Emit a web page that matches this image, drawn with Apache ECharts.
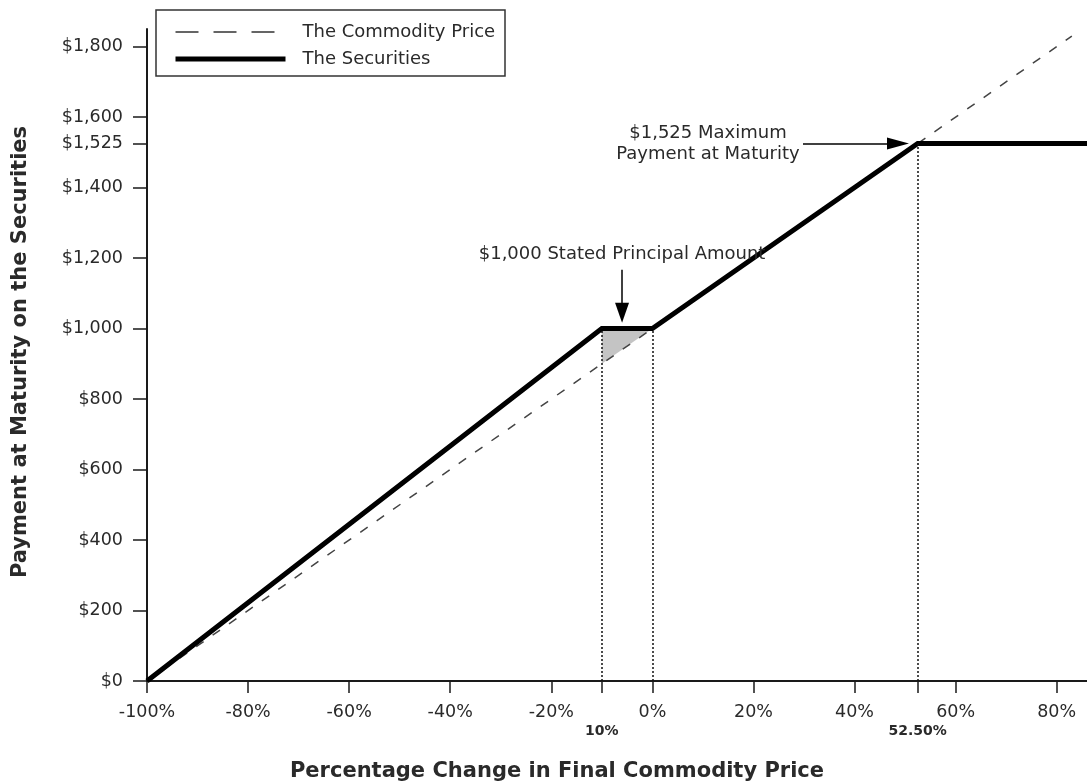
<!DOCTYPE html>
<html>
<head>
<meta charset="utf-8">
<script src="https://cdn.jsdelivr.net/npm/echarts@6/dist/echarts.min.js"></script>
<style>
  html, body { margin: 0; padding: 0; background: #fff; }
  #chart { width: 1087px; height: 783px; }
</style>
</head>
<body>
<div id="chart"></div>
<script>
// Axis ticks and labels
const xTicks = [-100, -80, -60, -40, -20, 0, 20, 40, 60, 80];
const xMarks = [-10, 52.5];
const xMarkLabels = ['10%', '52.50%'];
const yTicks = [0, 200, 400, 600, 800, 1000, 1200, 1400, 1525, 1600, 1800];

// Payoff lines: [percentage change, payment]
const commodityPrice = [[-100, 0], [83, 1830]];
const securities = [[-100, 0], [-10, 1000], [0, 1000], [52.5, 1525], [86, 1525]];
// Shaded buffer area between the two lines
const bufferZone = [[-10, 900], [-10, 1000], [0, 1000]];

// Annotation anchors
const principalArrow = [[-6, 1167], [-6, 1045]];
const maxArrow = [[29.8, 1525], [48.6, 1525]];
const guideLines = [
  [[-10, 0], [-10, 1000]],
  [[0, 0], [0, 1000]],
  [[52.5, 0], [52.5, 1525]]
];

const FONT = 'DejaVu Sans';
const TXT = '#2a2a2a';

const chart = echarts.init(document.getElementById('chart'));

chart.setOption({
  animation: false,
  backgroundColor: '#fff',
  grid: { left: 147, right: 0, top: 29, bottom: 102 },
  legend: {
    orient: 'vertical',
    left: 173,
    top: 23,
    padding: 0,
    itemWidth: 110,
    itemHeight: 14,
    itemGap: 9,
    selectedMode: false,
    itemStyle: { opacity: 0 },
    data: [
      { name: 'The Commodity Price', lineStyle: { width: 1.5, type: [23, 15], color: '#333' } },
      { name: 'The Securities', lineStyle: { width: 5, color: '#000' } }
    ],
    textStyle: { fontFamily: FONT, fontSize: 18, color: TXT, padding: [0, 0, 0, 12] }
  },
  xAxis: [
    {
      type: 'value',
      min: -100,
      max: 86,
      interval: 20,
      splitLine: { show: false },
      axisLine: { show: true, onZero: false, lineStyle: { color: '#1a1a1a', width: 2 } },
      axisTick: { show: true, customValues: xTicks.concat(xMarks), length: 12, lineStyle: { color: '#1a1a1a', width: 1.5 } },
      axisLabel: {
        customValues: xTicks,
        formatter: v => v + '%',
        margin: 22,
        fontFamily: FONT, fontSize: 17.5, color: TXT
      }
    },
    {
      type: 'value',
      position: 'bottom',
      min: -100,
      max: 86,
      interval: 20,
      splitLine: { show: false },
      axisLine: { show: false },
      axisTick: { show: false },
      axisLabel: {
        customValues: xMarks,
        formatter: v => xMarkLabels[xMarks.indexOf(v)],
        margin: 43,
        fontFamily: FONT, fontSize: 14, fontWeight: 'bold', color: TXT
      }
    }
  ],
  yAxis: {
    type: 'value',
    min: 0,
    max: 1850,
    interval: 200,
    splitLine: { show: false },
    axisLine: { show: true, onZero: false, lineStyle: { color: '#1a1a1a', width: 2 } },
    axisTick: { show: true, customValues: yTicks, length: 14, lineStyle: { color: '#1a1a1a', width: 1.5 } },
    axisLabel: {
      customValues: yTicks,
      formatter: v => '$' + v.toLocaleString('en-US'),
      margin: 24,
      fontFamily: FONT, fontSize: 17.5, color: TXT
    }
  },
  graphic: [
    {
      type: 'rect',
      shape: { x: 156, y: 10, width: 349, height: 66 },
      style: { fill: 'none', stroke: '#333', lineWidth: 1.5 },
      z: 10
    },
    {
      type: 'text',
      x: 557, y: 772,
      style: {
        text: 'Percentage Change in Final Commodity Price',
        fontFamily: FONT, fontSize: 21, fontWeight: 'bold', fill: TXT,
        align: 'center', verticalAlign: 'middle'
      }
    },
    {
      type: 'text',
      x: 21, y: 352,
      rotation: Math.PI / 2,
      style: {
        text: 'Payment at Maturity on the Securities',
        fontFamily: FONT, fontSize: 21, fontWeight: 'bold', fill: TXT,
        align: 'center', verticalAlign: 'middle'
      }
    }
  ],
  series: [
    {
      type: 'custom',
      name: 'buffer',
      coordinateSystem: 'cartesian2d',
      silent: true,
      z: 1,
      data: bufferZone,
      renderItem: (params, api) => {
        if (params.dataIndex !== 0) return;
        return {
          type: 'polygon',
          shape: { points: bufferZone.map(p => api.coord(p)) },
          style: { fill: '#c4c4c4', stroke: 'none' }
        };
      }
    },
    {
      type: 'line',
      name: 'The Commodity Price',
      data: commodityPrice,
      symbol: 'none',
      silent: true,
      z: 2,
      lineStyle: { color: '#444', width: 1.5, type: [9, 11] },
      itemStyle: { color: '#444' },
      markLine: {
        silent: true,
        symbol: 'none',
        label: { show: false },
        lineStyle: { color: '#111', width: 1.5, type: [2, 2] },
        data: guideLines.map(seg => [{ coord: seg[0] }, { coord: seg[1] }])
      }
    },
    {
      type: 'line',
      name: 'The Securities',
      data: securities,
      symbol: 'none',
      silent: true,
      z: 3,
      lineStyle: { color: '#000', width: 5, cap: 'butt', join: 'miter' },
      itemStyle: { color: '#000' },
      markLine: {
        silent: true,
        symbol: ['none', 'triangle'],
        lineStyle: { color: '#000', width: 1.5, type: 'solid' },
        data: [
          [
            {
              coord: principalArrow[0],
              symbolSize: [14, 20],
              label: {
                show: true,
                position: 'start',
                formatter: '$1,000 Stated Principal Amount',
                distance: 6,
                fontFamily: FONT, fontSize: 18, color: TXT
              }
            },
            { coord: principalArrow[1], symbolSize: [14, 20] }
          ],
          [
            {
              coord: maxArrow[0],
              symbolSize: [12, 22],
              label: {
                show: true,
                position: 'start',
                formatter: '$1,525 Maximum\nPayment at Maturity',
                distance: 95,
                lineHeight: 21,
                align: 'center',
                padding: [0, 0, 10, 0],
                fontFamily: FONT, fontSize: 18, color: TXT
              }
            },
            { coord: maxArrow[1], symbolSize: [12, 22] }
          ]
        ]
      }
    }
  ]
});
</script>
</body>
</html>
